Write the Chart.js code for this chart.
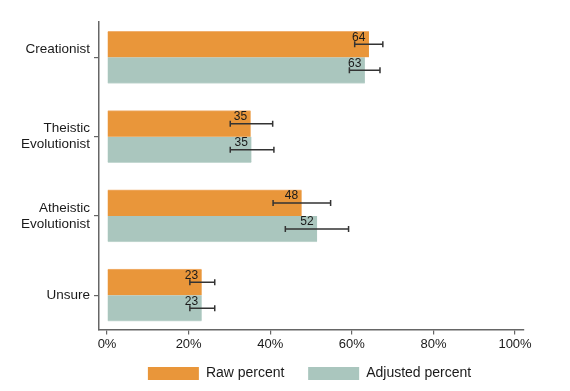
<!DOCTYPE html>
<html>
<head>
<meta charset="utf-8">
<script src="https://cdn.jsdelivr.net/npm/chart.js@4/dist/chart.umd.min.js"></script>
<style>
  html,body{margin:0;padding:0;background:#fff;}
  #wrap{width:570px;height:391px;position:relative;}
</style>
</head>
<body>
<div id="wrap"><canvas id="c" width="570" height="391"></canvas></div>
<script>
const categories = [["Creationist", ""], ["Theistic", "Evolutionist"], ["Atheistic", "Evolutionist"], ["Unsure"]];
const seriesNames = ["Raw percent", "Adjusted percent"];
const rawValues = [64.2, 35.2, 47.7, 23.2];
const rawLow = [60.7, 30.2, 40.7, 20.3];
const rawHigh = [67.6, 40.6, 54.8, 26.4];
const rawLabels = ["64", "35", "48", "23"];
const adjValues = [63.2, 35.4, 51.5, 23.2];
const adjLow = [59.4, 30.2, 43.7, 20.3];
const adjHigh = [66.9, 40.9, 59.2, 26.4];
const adjLabels = ["63", "35", "52", "23"];
const xTicks = [0, 20, 40, 60, 80, 100];

const FONT = "'Liberation Sans', Arial, Helvetica, sans-serif";
const errors = [{low: rawLow, high: rawHigh, labels: rawLabels}, {low: adjLow, high: adjHigh, labels: adjLabels}];

const errorPlugin = {
  id: 'errorBars',
  afterDatasetsDraw(chart) {
    const ctx = chart.ctx;
    const xs = chart.scales.x;
    chart.data.datasets.forEach((ds, di) => {
      const meta = chart.getDatasetMeta(di);
      const e = errors[di];
      meta.data.forEach((bar, i) => {
        const y = bar.y;
        const x1 = xs.getPixelForValue(e.low[i]);
        const x2 = xs.getPixelForValue(e.high[i]);
        ctx.save();
        ctx.strokeStyle = '#333';
        ctx.lineWidth = 1.5;
        ctx.beginPath();
        ctx.moveTo(x1, y); ctx.lineTo(x2, y);
        ctx.moveTo(x1, y - 3); ctx.lineTo(x1, y + 3);
        ctx.moveTo(x2, y - 3); ctx.lineTo(x2, y + 3);
        ctx.stroke();
        ctx.fillStyle = '#1a1a1a';
        ctx.font = '12px ' + FONT;
        ctx.textAlign = 'right';
        ctx.textBaseline = 'alphabetic';
        const top = y - bar.height / 2;
        ctx.fillText(e.labels[i], bar.x - 3.5, top + 9.5);
        ctx.restore();
      });
    });
  }
};

const pts = (vals) => vals.map((v, i) => ({x: v, y: i}));

new Chart(document.getElementById('c'), {
  type: 'bar',
  data: {
    datasets: [
      {label: seriesNames[0], data: pts(rawValues), backgroundColor: '#E9963A', borderColor: '#F0B070', borderWidth: {top: 1}, borderSkipped: false, barThickness: 26},
      {label: seriesNames[1], data: pts(adjValues), backgroundColor: '#AAC6BE', borderColor: '#C4D8D2', borderWidth: {bottom: 1}, borderSkipped: false, barThickness: 26}
    ]
  },
  options: {
    indexAxis: 'y',
    responsive: false,
    animation: false,
    layout: {padding: {top: 22, right: 46, left: 0, bottom: 0.4}},
    scales: {
      x: {
        type: 'linear',
        min: -1.97,
        max: 102.2,
        offset: false,
        afterBuildTicks: (s) => { s.ticks = xTicks.map(v => ({value: v})); },
        afterFit: (s) => { s.height = 25.1; },
        ticks: {callback: (v) => v + '%', color: '#1a1a1a', font: {family: FONT, size: 13}, padding: 2, maxRotation: 0},
        grid: {drawOnChartArea: false, drawTicks: true, tickLength: 5, color: '#666', lineWidth: 1.2, offset: false},
        border: {display: true, color: '#666', width: 1.5}
      },
      y: {
        type: 'linear',
        reverse: true,
        offset: false,
        min: -0.446,
        max: 3.433,
        afterBuildTicks: (s) => { s.ticks = categories.map((c, i) => ({value: i})); },
        afterFit: (s) => { s.width = 99; },
        ticks: {callback: (v) => categories[v], color: '#1a1a1a', font: {family: FONT, size: 13.5}, padding: 4, autoSkip: false},
        grid: {drawOnChartArea: false, drawTicks: true, tickLength: 5, color: '#666', lineWidth: 1.2, offset: false},
        border: {display: true, color: '#666', width: 1.5}
      }
    },
    plugins: {
      legend: {
        position: 'bottom',
        fullSize: false,
        labels: {
          boxWidth: 51, boxHeight: 13, padding: 12, color: '#1a1a1a', font: {family: FONT, size: 14},
          generateLabels: (chart) => {
            const items = Chart.defaults.plugins.legend.labels.generateLabels(chart);
            items.forEach((it, i) => { it.text = it.text + (i === 0 ? '\u00A0\u00A0\u00A0' : '\u00A0'); it.lineWidth = 0; });
            return items;
          }
        }
      },
      tooltip: {enabled: false}
    }
  },
  plugins: [errorPlugin]
});
</script>
</body>
</html>
